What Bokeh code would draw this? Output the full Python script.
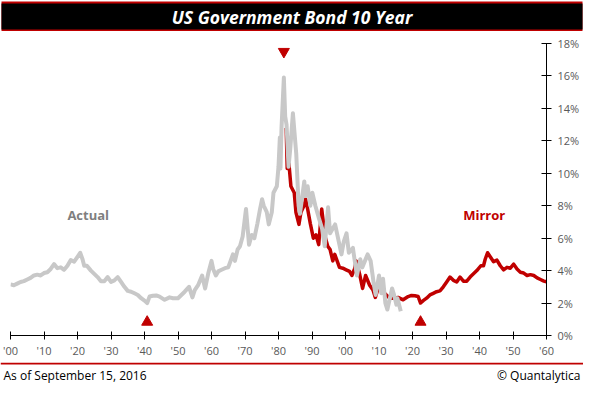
from bokeh.plotting import figure
from bokeh.layouts import column
from bokeh.models import FixedTicker, LinearAxis, Label, Range1d
from bokeh.core.properties import value
from bokeh.embed import file_html
from bokeh.resources import INLINE

# ---- data ----
actual_years = [1900, 1901, 1902, 1903, 1904, 1905, 1906, 1907, 1908, 1909, 1910, 1911, 1912, 1913,
                1914, 1915, 1916, 1917, 1918, 1919, 1920, 1920.8, 1921.5, 1922, 1922.8, 1924, 1925,
                1926, 1927, 1928, 1929, 1930, 1931, 1932, 1933, 1934, 1935, 1936, 1937, 1938, 1939,
                1940, 1940.8, 1941.5, 1942.5, 1943.5, 1944.5, 1946, 1947.5, 1948.5, 1950, 1951, 1952,
                1953.3, 1954.3, 1955, 1956, 1957.2, 1958.1, 1959, 1960, 1960.5, 1961.3, 1962, 1963,
                1964, 1965, 1966.4, 1967, 1967.8, 1968.5, 1969.3, 1970.3, 1971.2, 1972, 1972.8, 1973.7,
                1974.5, 1975.1, 1975.6, 1976.5, 1977.1, 1978, 1978.5, 1979.5, 1980, 1980.4, 1980.6,
                1980.9, 1981.6, 1982, 1982.4, 1983, 1983.5, 1984.3, 1985.3, 1986, 1986.4, 1987.7, 1988,
                1988.7, 1989.5, 1990.1, 1991, 1992.1, 1993, 1993.8, 1994.8, 1995.4, 1996.9, 1998.8,
                1999.5, 2000.3, 2001, 2002.2, 2003.4, 2004.4, 2005, 2006.6, 2007.5, 2008.5, 2009, 2010,
                2010.7, 2011.2, 2011.9, 2012.5, 2013.9, 2014.5, 2015.2, 2015.5, 2016.5]
actual_values = [3.15, 3.1, 3.2, 3.3, 3.35, 3.45, 3.55, 3.7, 3.75, 3.7, 3.85, 3.9, 4.1, 4.4,
                 4.15, 4.2, 4.05, 4.3, 4.65, 4.55, 4.85, 5.1, 4.7, 4.3, 4.3, 4.0, 3.8,
                 3.6, 3.35, 3.35, 3.6, 3.3, 3.4, 3.6, 3.3, 3.0, 2.75, 2.7, 2.6, 2.5, 2.3,
                 2.15, 2.0, 2.4, 2.45, 2.47, 2.4, 2.2, 2.35, 2.3, 2.3, 2.5, 2.7,
                 3.0, 2.35, 2.8, 3.1, 3.7, 2.9, 3.8, 4.6, 4.1, 3.7, 3.95, 4.05,
                 4.15, 4.2, 5.0, 4.6, 5.3, 5.5, 6.1, 7.8, 5.6, 6.2, 6.0, 6.9,
                 7.8, 8.4, 8.0, 7.6, 6.85, 7.6, 8.8, 9.2, 10.4, 12.2, 10.3,
                 12.8, 15.9, 13.5, 13.0, 10.4, 11.5, 13.7, 11.2, 8.0, 7.5, 9.5, 8.6,
                 9.2, 8.0, 8.8, 8.0, 7.2, 6.6, 5.5, 7.9, 6.3, 6.85, 5.0,
                 5.8, 6.3, 5.1, 5.4, 3.7, 4.7, 4.2, 5.0, 4.6, 3.1, 2.5, 3.7,
                 2.6, 3.5, 2.0, 1.6, 2.9, 2.5, 1.9, 2.3, 1.5]

mirror_years = [1982.3, 1982.6, 1982.8, 1983.2, 1983.7, 1984.7, 1985.2, 1986.1, 1986.7,
                1987.6, 1988.1, 1988.7, 1989.5, 1990.4, 1991.2, 1992.0, 1992.9, 1993.9, 1994.7,
                1995.4, 1996.2, 1996.8, 1998.2, 1999.2, 2000.2, 2001.2, 2001.9, 2002.7, 2003.2,
                2004.2, 2005.1, 2006.0, 2007.2, 2008.2, 2008.9, 2009.9, 2011.2, 2012.2, 2013.2,
                2014.7, 2015.7, 2017.2, 2018.7, 2019.7, 2020.7, 2021.7, 2022.4, 2023.2, 2024.2,
                2025.2, 2026.2, 2027.2, 2028.2, 2029.2, 2030.2, 2031.2, 2032.2, 2033.2, 2034.2,
                2035.2, 2036.2, 2037.2, 2038.2, 2039.2, 2040.4, 2041.2, 2041.7, 2042.4, 2043.2,
                2044.2, 2045.2, 2046.2, 2047.2, 2048.2, 2049.2, 2050.2, 2051.2, 2052.2, 2053.2,
                2054.2, 2055.2, 2056.2, 2057.2, 2058.2, 2059.2, 2060.2]
mirror_values = [12.8, 10.3, 12.2, 10.4, 9.2, 8.8, 7.6, 6.85, 7.6,
                 8.0, 8.4, 7.8, 6.9, 6.0, 6.2, 5.6, 7.8, 6.1, 5.5,
                 5.3, 4.6, 5.0, 4.2, 4.15, 4.05, 3.95, 3.7, 4.1, 4.6,
                 3.8, 2.9, 3.7, 3.1, 2.8, 2.35, 3.0, 2.7, 2.5, 2.3,
                 2.3, 2.35, 2.2, 2.4, 2.47, 2.45, 2.4, 2.0, 2.15, 2.3,
                 2.5, 2.6, 2.7, 2.75, 3.0, 3.3, 3.6, 3.4, 3.3, 3.6,
                 3.35, 3.35, 3.6, 3.8, 4.0, 4.3, 4.3, 4.7, 5.1, 4.85,
                 4.55, 4.65, 4.3, 4.05, 4.2, 4.15, 4.4, 4.1, 3.9, 3.85,
                 3.7, 3.75, 3.7, 3.55, 3.45, 3.35, 3.3]

x_ticks = [1900, 1910, 1920, 1930, 1940, 1950, 1960, 1970, 1980, 1990, 2000, 2010, 2020,
           2030, 2040, 2050, 2060]
x_tick_labels = ["'00", "'10", "'20", "'30", "'40", "'50", "'60", "'70", "'80", "'90",
                 "'00", "'10", "'20", "'30", "'40", "'50", "'60"]
y_ticks = [0, 2, 4, 6, 8, 10, 12, 14, 16, 18]
y_tick_labels = ["0%", "2%", "4%", "6%", "8%", "10%", "12%", "14%", "16%", "18%"]

peak_year = [1981.6]
peak_marker_level = [17.5]
trough_years = [1940.8, 2022.4]
trough_marker_level = [0.83, 0.83]

title_text = "US Government Bond 10 Year"
footer_left = "As of September 15, 2016"
footer_right = "\u00a9 Quantalytica"

GRAY = "#C8C8C8"
RED = "#C00000"
LABEL_GRAY = "#595959"
FONT = "Open Sans"
W = 583


def bare(fig):
    fig.outline_line_color = None
    fig.background_fill_color = "white"
    fig.border_fill_color = "white"
    fig.frame_align = False
    for g in fig.grid:
        g.visible = False
    return fig


# ---- header band ----
HH = 31
head = bare(figure(width=W, height=HH, output_backend="svg", toolbar_location=None,
                   x_range=Range1d(0, W), y_range=Range1d(HH, 0), min_border=0,
                   x_axis_location=None, y_axis_location=None))
head.quad(left=[1], right=[W - 1], top=[1], bottom=[31], fill_color=RED, line_color=None)
head.quad(left=[1], right=[W - 1], top=[3], bottom=[29], fill_color="black", line_color=None)
head.text(x=[W / 2], y=[16], text=[title_text], text_align="center", text_baseline="middle",
          text_color="white", text_font=value(FONT), text_font_style="bold italic",
          text_font_size="17.5px")

# ---- main chart ----
MH = 331
p = bare(figure(width=W, height=MH, output_backend="svg", toolbar_location=None,
                x_range=Range1d(1900, 2060), y_range=Range1d(0, 18),
                min_border_left=10, min_border_right=37, min_border_top=12, min_border_bottom=27,
                x_axis_location=None, y_axis_location=None))

xaxis = LinearAxis(ticker=FixedTicker(ticks=x_ticks),
                   major_label_overrides=dict(zip(x_ticks, x_tick_labels)))
yaxis = LinearAxis(ticker=FixedTicker(ticks=y_ticks),
                   major_label_overrides=dict(zip(y_ticks, y_tick_labels)))
for ax in (xaxis, yaxis):
    ax.axis_line_color = "black"
    ax.axis_line_width = 1
    ax.major_tick_line_color = "black"
    ax.minor_tick_line_color = None
    ax.major_label_text_color = LABEL_GRAY
    ax.major_label_text_font = FONT
    ax.major_label_text_font_size = "11px"
xaxis.major_tick_in = 4
xaxis.major_tick_out = 4
xaxis.major_label_standoff = 3
yaxis.major_tick_in = 5
yaxis.major_tick_out = 5
yaxis.major_label_standoff = 6
p.add_layout(xaxis, "below")
p.add_layout(yaxis, "right")

p.line(mirror_years, mirror_values, line_color=RED, line_width=3.5, line_join="round")
p.line(actual_years, actual_values, line_color=GRAY, line_width=4, line_join="round")

p.scatter(x=peak_year, y=peak_marker_level, marker="inverted_triangle", size=11,
          fill_color=RED, line_color=RED)
p.scatter(x=trough_years, y=trough_marker_level, marker="triangle", size=11,
          fill_color=RED, line_color=RED)

p.add_layout(Label(x=1923.2, y=7.45, text="Actual", text_align="center", text_baseline="middle",
                   text_color="#7F7F7F", text_font=FONT, text_font_style="bold",
                   text_font_size="13px"))
p.add_layout(Label(x=2041.4, y=7.45, text="Mirror", text_align="center", text_baseline="middle",
                   text_color=RED, text_font=FONT, text_font_style="bold",
                   text_font_size="13px"))

# ---- footer ----
FH = 383 - HH - MH
foot = bare(figure(width=W, height=FH, output_backend="svg", toolbar_location=None,
                   x_range=Range1d(0, W), y_range=Range1d(FH, 0), min_border=0,
                   x_axis_location=None, y_axis_location=None))
foot.quad(left=[0], right=[W], top=[0], bottom=[2], fill_color=RED, line_color=None)
foot.text(x=[3], y=[12.5], text=[footer_left], text_align="left", text_baseline="middle",
          text_color="black", text_font=value(FONT), text_font_size="12px")
foot.text(x=[W - 3], y=[12.5], text=[footer_right], text_align="right", text_baseline="middle",
          text_color="black", text_font=value(FONT), text_font_size="12px")

layout = column(head, p, foot, spacing=0)
open("out.html", "w").write(file_html(layout, INLINE))
